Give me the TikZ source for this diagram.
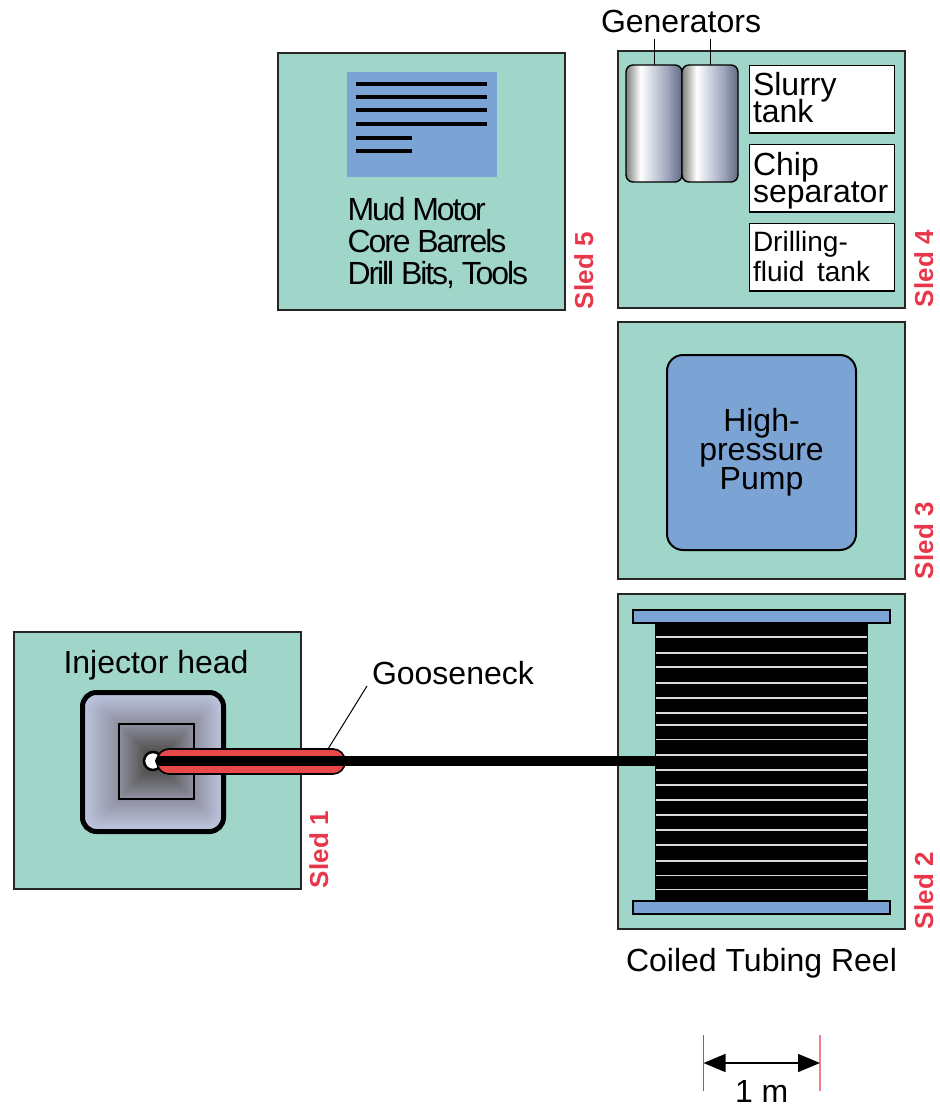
\documentclass[tikz,border=0pt]{standalone}
\usepackage{fontspec}
\setmainfont{Liberation Sans}
\usepackage{xcolor}
\usetikzlibrary{arrows.meta, positioning, calc}
\definecolor{sledgreen}{HTML}{A0D6CA}
\definecolor{panelblue}{HTML}{7BA3D4}
\definecolor{sledred}{HTML}{E8364A}
\definecolor{tickred}{HTML}{F0808F}
\definecolor{neckred}{HTML}{E8484A}
\definecolor{injlight}{HTML}{BFC8E2}
\definecolor{injmid}{HTML}{8E8E9E}
\definecolor{injdark}{HTML}{3A3A32}
\pgfdeclarehorizontalshading{gencyl}{100bp}{
  rgb(0bp)=(0.50,0.50,0.48); rgb(25bp)=(0.50,0.50,0.48);
  rgb(38bp)=(1,1,1); rgb(50bp)=(0.80,0.82,0.87);
  rgb(62bp)=(0.62,0.65,0.74); rgb(75bp)=(0.38,0.42,0.52); rgb(100bp)=(0.38,0.42,0.52)}
\setlength{\lineskiplimit}{-100pt}
\tikzset{
  every node/.style={outer sep=0pt},
  sled/.style={draw=black!85, line width=1.6pt, fill=sledgreen, inner sep=0pt,
               anchor=north west, minimum width=287pt, minimum height=257pt},
  sledlabel/.style={text=sledred, rotate=90, anchor=base west, inner sep=0pt,
                    font=\fontsize{26}{26}\selectfont\bfseries},
  tag/.style={inner sep=0pt, anchor=base west, font=\fontsize{32}{32}\selectfont},
  tankbox/.style={draw, line width=1.4pt, fill=white, anchor=north west, inner sep=0pt,
                  minimum height=67.5pt, minimum width=145pt},
  tanktext/.style={inner sep=0pt, anchor=north west, align=left, font=\fontsize{32}{27}\selectfont},
  gencell/.style={draw, line width=1.4pt, rounded corners=7pt, shading=gencyl,
                  anchor=north west, inner sep=0pt, minimum width=56pt, minimum height=117pt},
  flange/.style={draw, line width=2pt, fill=panelblue, anchor=north west, inner sep=0pt,
                 minimum width=257pt, minimum height=13pt},
  leader/.style={line width=1pt},
  textbar/.style={line width=4pt},
  coilgap/.style={line width=1.6pt, draw=black!15}
}
\begin{document}
\begin{tikzpicture}[x=1pt, y=-1pt]
  \useasboundingbox (0,0) rectangle (939,1107);

  % Sled 5
  \node[sled] (sled5) at (278,53) {};
  \node[sledlabel] (sled5lbl) at (593,309) {Sled 5};
  \node[fill=panelblue, anchor=north west, inner sep=0pt, minimum width=150pt,
        minimum height=105pt] (panel) at (347,72) {};
  \foreach \y in {84,97,110,124}
    \draw[textbar] (356,\y) -- (487,\y);
  \foreach \y in {138,151}
    \draw[textbar] (356,\y) -- (412,\y);
  \node[anchor=north west, inner sep=0pt, align=left,
        font=\fontsize{32}{32}\selectfont\addfontfeature{LetterSpace=-6.5}] (tools) at (347.5,197)
    {Mud Motor\\Core Barrels\\Drill Bits, Tools};

  % Sled 4
  \node[sled] (sled4) at (618,51) {};
  \node[sledlabel] (sled4lbl) at (933,307) {Sled 4};
  \node[gencell] (gen1) at (626,65) {};
  \node[gencell] (gen2) at (682,65) {};
  \node[tag] (genlbl) at (601,33) {Generators};
  \coordinate (gentop) at (0,39);
  \draw[leader] (gen1.north) -- (gen1.north |- gentop);
  \draw[leader] (gen2.north) -- (gen2.north |- gentop);
  \node[tankbox] (slurry) at (749.5,65.5) {};
  \node[tanktext] (slurrytxt) at (753,72) {Slurry\\tank};
  \node[tankbox] (chip) at (749.5,144.5) {};
  \node[tanktext] (chiptxt) at (753,152) {Chip\\separator};
  \node[tankbox] (fluid) at (749.5,223.5) {};
  \node[tanktext, font=\fontsize{28}{30}\selectfont] (fluidtxt) at (753,231)
    {Drilling-\\fluid\kern5pt\ tank};

  % Sled 3
  \node[sled] (sled3) at (618,322) {};
  \node[sledlabel] (sled3lbl) at (933,579) {Sled 3};
  \node[draw, line width=2pt, rounded corners=16pt, fill=panelblue, anchor=north west,
        minimum width=189pt, minimum height=195pt, align=center,
        font=\fontsize{32}{29}\selectfont] (pump) at (667,355)
    {High-\\pressure\\Pump};

  % Sled 2
  \node[sled, minimum height=335pt] (sled2) at (618,594) {};
  \node[sledlabel] (sled2lbl) at (933,929) {Sled 2};
  \node[fill=black, anchor=north west, inner sep=0pt, minimum width=213pt,
        minimum height=280pt] (coil) at (655,622) {};
  \foreach \y in {637,653,667,683,698,713,725,739.5,755,770,785,800,815,830,845,861,875.5,889.5}
    \draw[coilgap] (656,\y) -- (867,\y);
  \node[flange] (topflange) at (633,610) {};
  \node[flange] (botflange) at (633,901) {};
  \node[tag] (reellbl) at (626,971) {Coiled Tubing Reel};

  % Sled 1
  \node[sled] (sled1) at (14,632) {};
  \node[sledlabel] (sled1lbl) at (328,888) {Sled 1};
  \node[tag] (injlbl) at (63.5,673) {Injector head};
  \foreach \i in {0,...,24} {
    \pgfmathsetmacro{\t}{\i/25}
    \pgfmathsetmacro{\p}{100*\t}
    \colorlet{stepcol}{injmid!\p!injlight}
    \fill[stepcol, rounded corners={14*(1-\t)*1pt}]
      ({82+37*\t},{692+32*\t}) rectangle ({224-30*\t},{832-33*\t});
  }
  \foreach \i in {0,...,24} {
    \pgfmathsetmacro{\t}{\i/25}
    \pgfmathsetmacro{\p}{100*\t}
    \colorlet{stepcol}{injdark!\p!injmid}
    \fill[stepcol] ({119+37*\t},{724+37*\t}) rectangle ({194-38*\t},{799-38*\t});
  }
  \node[draw, line width=5pt, rounded corners=14pt, anchor=north west, inner sep=0pt,
        minimum width=141pt, minimum height=139pt] (injector) at (82.5,692.5) {};
  \node[draw, line width=2pt, anchor=north west, inner sep=0pt,
        minimum width=75pt, minimum height=75pt] (core) at (119,724) {};

  % Gooseneck
  \node[circle, draw, line width=2.5pt, fill=white, inner sep=0pt, minimum size=18pt] (hole) at (153,761) {};
  \draw[line width=1.6pt, fill=neckred, rounded corners=12pt] (157,749) rectangle (345,774);
  \coordinate (neck) at (328,749);
  \node[tag] (necklbl) at (372,684) {Gooseneck};
  \coordinate (necktop) at (367,686);
  \draw[leader] (neck) -- (necktop);

  % Tubing
  \draw[line width=10pt, line cap=round] (hole.center) ++(7,0) -- (hole.center -| coil.west);

  % Scale
  \coordinate (scaleL) at (703.5,1063);
  \coordinate (scaleR) at (820,1063);
  \draw[sledred, line width=0.9pt] ($(scaleL)+(0,-28)$) -- ($(scaleL)+(0,28)$);
  \draw[tickred, line width=1.2pt] ($(scaleR)+(0,-28)$) -- ($(scaleR)+(0,28)$);
  \draw[{Triangle[length=22pt,width=18pt]}-{Triangle[length=22pt,width=18pt]}, line width=1.6pt]
    (scaleL) -- (scaleR);
  \node[tag, anchor=base] (scalelbl) at ($(scaleL)!0.5!(scaleR)+(0,39)$) {1 m};
\end{tikzpicture}
\end{document}
